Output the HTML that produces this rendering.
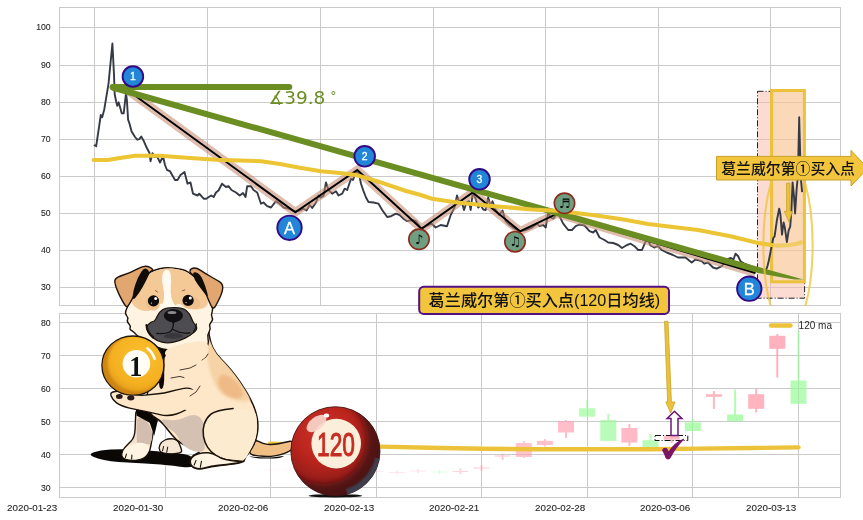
<!DOCTYPE html>
<html lang="zh"><head><meta charset="utf-8"><title>葛兰威尔第①买入点</title>
<style>html,body{margin:0;padding:0;background:#fff}body{width:863px;height:520px;overflow:hidden}svg{display:block}.tk{font-family:"Liberation Sans",sans-serif;font-size:10px;fill:#262626}.cj{font-family:"Liberation Sans","Noto Sans CJK SC",sans-serif;fill:#111;font-weight:500}.mk{font-family:"Liberation Sans",sans-serif;fill:#fff;text-anchor:middle}</style></head><body>
<svg width="863" height="520" viewBox="0 0 863 520">
<rect width="863" height="520" fill="#fff"/>
<g stroke="#cacaca" stroke-width="1" fill="none">
<line x1="59.5" y1="287.5" x2="840.5" y2="287.5"/>
<line x1="59.5" y1="250.5" x2="840.5" y2="250.5"/>
<line x1="59.5" y1="213.5" x2="840.5" y2="213.5"/>
<line x1="59.5" y1="176.5" x2="840.5" y2="176.5"/>
<line x1="59.5" y1="139.5" x2="840.5" y2="139.5"/>
<line x1="59.5" y1="102.5" x2="840.5" y2="102.5"/>
<line x1="59.5" y1="65.5" x2="840.5" y2="65.5"/>
<line x1="59.5" y1="27.5" x2="840.5" y2="27.5"/>
<line x1="94.5" y1="7.5" x2="94.5" y2="305.5"/>
<line x1="207.5" y1="7.5" x2="207.5" y2="305.5"/>
<line x1="320.5" y1="7.5" x2="320.5" y2="305.5"/>
<line x1="433.5" y1="7.5" x2="433.5" y2="305.5"/>
<line x1="545.5" y1="7.5" x2="545.5" y2="305.5"/>
<line x1="658.5" y1="7.5" x2="658.5" y2="305.5"/>
<line x1="770.5" y1="7.5" x2="770.5" y2="305.5"/>
<rect x="59.5" y="7.5" width="781.0" height="298.0"/>
<line x1="59.5" y1="487.5" x2="840.5" y2="487.5"/>
<line x1="59.5" y1="454.5" x2="840.5" y2="454.5"/>
<line x1="59.5" y1="421.5" x2="840.5" y2="421.5"/>
<line x1="59.5" y1="388.5" x2="840.5" y2="388.5"/>
<line x1="59.5" y1="355.5" x2="840.5" y2="355.5"/>
<line x1="59.5" y1="322.5" x2="840.5" y2="322.5"/>
<line x1="165.5" y1="313.5" x2="165.5" y2="497.5"/>
<line x1="270.5" y1="313.5" x2="270.5" y2="497.5"/>
<line x1="376.5" y1="313.5" x2="376.5" y2="497.5"/>
<line x1="481.5" y1="313.5" x2="481.5" y2="497.5"/>
<line x1="587.5" y1="313.5" x2="587.5" y2="497.5"/>
<line x1="692.5" y1="313.5" x2="692.5" y2="497.5"/>
<line x1="798.5" y1="313.5" x2="798.5" y2="497.5"/>
<rect x="59.5" y="313.5" width="781.0" height="184.0"/>
</g>
<g class="tk" text-anchor="end" stroke="#262626" stroke-width="0.1">
<text x="50.7" y="290.1" font-size="8.7px">30</text>
<text x="50.7" y="253.1" font-size="8.7px">40</text>
<text x="50.7" y="216.1" font-size="8.7px">50</text>
<text x="50.7" y="179.1" font-size="8.7px">60</text>
<text x="50.7" y="142.1" font-size="8.7px">70</text>
<text x="50.7" y="105.1" font-size="8.7px">80</text>
<text x="50.7" y="68.1" font-size="8.7px">90</text>
<text x="50.7" y="30.1" font-size="8.7px">100</text>
<text x="50.7" y="490.6" font-size="8.7px">30</text>
<text x="50.7" y="457.6" font-size="8.7px">40</text>
<text x="50.7" y="424.6" font-size="8.7px">50</text>
<text x="50.7" y="391.6" font-size="8.7px">60</text>
<text x="50.7" y="358.6" font-size="8.7px">70</text>
<text x="50.7" y="325.6" font-size="8.7px">80</text>
<text x="57.3" y="510.7" font-size="9.4px" textLength="50.2" lengthAdjust="spacingAndGlyphs">2020-01-23</text>
<text x="163.3" y="510.7" font-size="9.4px" textLength="50.2" lengthAdjust="spacingAndGlyphs">2020-01-30</text>
<text x="268.3" y="510.7" font-size="9.4px" textLength="50.2" lengthAdjust="spacingAndGlyphs">2020-02-06</text>
<text x="374.3" y="510.7" font-size="9.4px" textLength="50.2" lengthAdjust="spacingAndGlyphs">2020-02-13</text>
<text x="479.3" y="510.7" font-size="9.4px" textLength="50.2" lengthAdjust="spacingAndGlyphs">2020-02-21</text>
<text x="585.3" y="510.7" font-size="9.4px" textLength="50.2" lengthAdjust="spacingAndGlyphs">2020-02-28</text>
<text x="690.3" y="510.7" font-size="9.4px" textLength="50.2" lengthAdjust="spacingAndGlyphs">2020-03-06</text>
<text x="796.3" y="510.7" font-size="9.4px" textLength="50.2" lengthAdjust="spacingAndGlyphs">2020-03-13</text>
</g>
<clipPath id="ct"><rect x="59.5" y="7.5" width="781.0" height="298.0"/></clipPath>
<g clip-path="url(#ct)">
<rect x="757.5" y="91.3" width="47.1" height="206.9" fill="#f7b8a6" fill-opacity="0.5" stroke="#222" stroke-width="1" stroke-dasharray="6,2,1,2"/>
<rect x="771.6" y="90.5" width="32.8" height="191.3" fill="#fbd28f" fill-opacity="0.38" stroke="#ecc23a" stroke-width="3"/>
<polyline points="93.9,145.0 96.2,146.2 100.8,115.0 102.2,117.3 104.3,109.2 108.5,83.8 112.4,43.5 114.0,74.6 114.7,94.2 116.1,101.2 117.2,105.8 118.6,102.3 120.0,107.0 121.8,113.4 123.7,113.4 126.0,93.0 126.9,100.0 128.1,119.6 129.7,124.2 131.5,131.2 135.0,137.0 137.3,139.7 139.2,139.2 141.2,136.5 143.5,140.4 146.5,147.3 149.5,153.0 150.5,161.2 152.5,153.2 154.5,157.0 157.0,156.2 160.0,162.5 163.0,156.2 165.0,165.0 167.0,170.0 170.0,171.2 175.0,180.0 177.5,180.0 180.5,175.0 184.5,172.0 187.5,183.7 190.5,182.5 193.0,193.7 197.5,195.5 199.2,193.7 203.7,198.7 206.2,198.7 211.2,195.5 213.7,197.0 216.0,192.5 218.5,190.5 222.0,183.7 226.0,187.0 228.5,186.2 231.5,190.0 236.0,192.5 239.7,195.5 243.0,193.0 245.5,197.0 247.2,186.2 251.0,186.2 253.5,190.0 257.2,192.5 261.0,203.7 263.5,202.5 267.2,206.2 271.0,207.5 276.0,201.2 279.7,203.7 283.5,207.5 288.5,208.7 294.7,211.2 299.7,210.5 303.5,208.7 306.5,210.5 309.7,205.0 312.2,208.0 316.0,202.5 318.5,195.5 320.5,197.5 323.5,196.2 326.0,182.5 328.5,190.0 332.2,193.7 336.0,191.2 338.5,195.5 342.2,193.7 344.7,188.7 347.2,190.0 351.0,178.7 353.0,180.0 356.0,171.2 359.0,173.7 361.0,183.7 363.5,191.2 366.0,197.5 368.5,202.0 373.5,202.5 378.5,203.7 382.2,210.0 387.2,217.0 391.0,216.2 396.0,213.7 399.7,215.0 403.5,218.7 407.2,221.2 412.2,220.0 416.0,221.2 421.5,228.7 426.0,226.2 431.7,223.7 435.7,227.5 440.7,225.0 447.0,226.2 450.7,215.0 454.5,207.5 457.0,195.5 459.0,201.2 462.0,202.5 464.0,210.0 466.5,202.5 469.0,201.2 470.7,210.0 472.7,192.5 475.7,198.7 478.2,207.5 480.7,205.0 483.2,209.5 485.7,210.0 488.2,197.5 490.7,206.2 492.5,201.2 495.7,210.0 499.0,215.0 502.5,210.5 505.7,221.2 509.5,225.0 514.5,228.7 520.0,231.2 525.7,230.0 532.0,227.5 537.0,223.7 539.5,226.2 543.2,225.0 545.7,227.5 548.2,212.5 550.7,217.5 553.2,218.7 557.0,213.7 559.5,216.2 563.2,223.7 568.2,230.0 572.0,230.0 575.7,226.2 579.5,224.5 584.5,225.5 589.5,231.2 593.2,232.5 595.7,230.0 599.5,237.5 604.5,240.0 608.2,242.5 613.2,243.0 618.2,245.0 622.0,248.0 627.0,245.0 630.7,243.7 634.5,246.2 638.2,250.0 642.0,250.0 645.7,241.2 648.0,240.0 650.5,245.5 654.2,247.5 658.0,246.2 661.7,250.0 666.7,252.5 673.0,255.0 678.0,257.5 685.5,257.5 691.7,262.5 695.5,259.5 701.7,261.2 704.2,263.7 708.0,262.5 713.0,267.5 716.7,268.7 721.7,266.2 728.0,259.0 731.0,258.0 733.5,259.5 735.5,253.7 738.0,256.0 740.5,261.2 745.0,264.0 750.0,266.0 755.0,268.0 760.0,270.0 765.6,271.0 767.5,266.0 768.9,260.1 770.5,252.0 773.3,238.0 774.6,236.4 776.8,220.8 779.2,208.6 780.4,214.3 782.0,234.7 783.6,222.5 784.8,227.4 786.9,242.1 788.6,230.6 790.2,226.6 791.3,212.6 792.6,182.4 794.0,196.3 795.1,213.5 796.7,188.1 797.9,176.0 799.2,117.3 800.8,178.0 802.1,192.2" fill="none" stroke="#353a44" stroke-width="1.9" stroke-linejoin="round"/>
<polyline points="126.6,89.4 295.3,212.3 357.3,170.0 421.5,228.8 472.7,192.5 520.0,231.3 557.0,213.7 755.5,273.0" fill="none" stroke="#c58a6e" stroke-opacity="0.56" stroke-width="8.6" stroke-linejoin="miter"/>
<polyline points="126.6,89.4 295.3,212.3 357.3,170.0 421.5,228.8 472.7,192.5 520.0,231.3 557.0,213.7 755.5,273.0" fill="none" stroke="#000" stroke-width="1.9" stroke-linejoin="miter"/>
<g stroke="#6b8e23" stroke-width="6" stroke-linecap="round" fill="none">
<line x1="112.8" y1="86.9" x2="289.3" y2="86.9"/>
</g>
<path d="M113.3 84.6L803.5 279.6L795.0 279.4L785.0 278.1L770.0 275.2L758.0 273.0L111.7 90.4Z" fill="#6b8e23"/>
<circle cx="112.6" cy="87.3" r="3" fill="#6b8e23"/>
<polyline points="93.7,160.0 107.5,160.0 120.0,158.0 135.0,155.8 160.0,155.8 190.0,158.0 216.0,159.7 261.0,161.2 280.0,164.0 298.5,167.5 321.0,171.2 340.0,173.0 356.0,175.0 378.5,181.6 406.0,191.0 420.0,194.8 432.0,198.8 457.0,202.5 494.5,206.2 532.0,209.5 557.0,210.8 594.5,215.2 622.0,219.2 648.0,224.0 698.0,230.0 730.5,236.2 758.0,243.0 771.5,245.0" fill="none" stroke="#ecc534" stroke-width="4.1" stroke-linejoin="round" stroke-linecap="round"/>
<polyline points="771.5,245.0 778.0,245.6 790.0,245.0 797.0,243.8 802.5,241.8" fill="none" stroke="#ecc534" stroke-opacity="0.62" stroke-width="4.1" stroke-linejoin="round"/>
<ellipse cx="788" cy="245" rx="24.6" ry="86" fill="none" stroke="#f0c63e" stroke-width="2.1" stroke-opacity="0.8"/>
</g>
<text font-family="DejaVu Sans,sans-serif" font-size="18.2px" fill="#6b8e23"><tspan x="268.6" y="104.2">∡</tspan><tspan x="284.2" y="104.2" textLength="41.2" lengthAdjust="spacingAndGlyphs">39.8</tspan><tspan x="330.2" y="100.4" font-size="12.5px">°</tspan></text>
<circle cx="132.9" cy="76.5" r="10.3" fill="#2186d8" stroke="#330a85" stroke-width="1.9"/>
<text class="mk" x="132.9" y="80.2" font-size="10.4px" fill="#fff" stroke="#fff" stroke-width="0.3">1</text>
<circle cx="364.7" cy="156.3" r="10.3" fill="#2186d8" stroke="#330a85" stroke-width="1.9"/>
<text class="mk" x="364.7" y="160.0" font-size="10.4px" fill="#fff" stroke="#fff" stroke-width="0.3">2</text>
<circle cx="479.5" cy="179.3" r="10.3" fill="#2186d8" stroke="#330a85" stroke-width="1.9"/>
<text class="mk" x="479.5" y="183.0" font-size="10.4px" fill="#fff" stroke="#fff" stroke-width="0.3">3</text>
<circle cx="289.5" cy="227.8" r="12.2" fill="#2186d8" stroke="#330a85" stroke-width="1.9"/>
<text class="mk" x="289.5" y="233.7" font-size="16.5px" fill="#fff" stroke="#fff" stroke-width="0.3">A</text>
<circle cx="749.3" cy="288.7" r="12.2" fill="#2186d8" stroke="#330a85" stroke-width="1.9"/>
<text class="mk" x="749.3" y="294.6" font-size="16.5px" fill="#fff" stroke="#fff" stroke-width="0.3">B</text>
<circle cx="419.0" cy="239.3" r="10.2" fill="#6f9e80" stroke="#8c2a1c" stroke-width="1.6"/>
<text x="419.0" y="243.9" font-family="DejaVu Sans,sans-serif" font-size="13px" text-anchor="middle" fill="#000">♪</text>
<circle cx="515.0" cy="241.7" r="10.2" fill="#6f9e80" stroke="#8c2a1c" stroke-width="1.6"/>
<text x="515.0" y="246.3" font-family="DejaVu Sans,sans-serif" font-size="13px" text-anchor="middle" fill="#000">♫</text>
<circle cx="564.5" cy="203.3" r="10.2" fill="#6f9e80" stroke="#8c2a1c" stroke-width="1.6"/>
<text x="564.5" y="207.9" font-family="DejaVu Sans,sans-serif" font-size="13px" text-anchor="middle" fill="#000">♬</text>
<path d="M786.6 183.2H790V211.3H792.4L789 222L784.4 211.3H786.6Z" fill="#ecc23a" stroke="#c9a227" stroke-width="0.8" stroke-linejoin="round"/>
<path d="M716.5 156.4H851V150.4L868 168.2L851 186V180H716.5Z" fill="#f2c53d" stroke="#c9a12a" stroke-width="1"/>
<text class="cj" x="721.2" y="173.8" font-size="15px" textLength="133.8" lengthAdjust="spacingAndGlyphs">葛兰威尔第①买入点</text>
<g>
<g fill="#ffa0b0" opacity="0.08"><rect x="269.2" y="468.0" width="2" height="4.0"/><rect x="262.2" y="469.5" width="16" height="1.0"/></g>
<g fill="#ffa0b0" opacity="0.10"><rect x="290.3" y="468.0" width="2" height="4.0"/><rect x="283.3" y="469.5" width="16" height="1.0"/></g>
<g fill="#ffa0b0" opacity="0.12"><rect x="311.5" y="468.0" width="2" height="5.0"/><rect x="304.5" y="470.0" width="16" height="1.0"/></g>
<g fill="#ffa0b0" opacity="0.14"><rect x="332.6" y="469.0" width="2" height="5.0"/><rect x="325.6" y="471.0" width="16" height="1.0"/></g>
<g fill="#98fb98" opacity="0.16"><rect x="353.7" y="469.0" width="2" height="5.0"/><rect x="346.7" y="471.0" width="16" height="1.0"/></g>
<g fill="#ffa0b0" opacity="0.18"><rect x="374.9" y="470.0" width="2" height="4.0"/><rect x="367.9" y="471.0" width="16" height="1.0"/></g>
<g fill="#ffa0b0" opacity="0.22"><rect x="396.0" y="470.5" width="2" height="4.0"/><rect x="389.0" y="472.0" width="16" height="1.0"/></g>
<g fill="#ffa0b0" opacity="0.26"><rect x="417.1" y="469.0" width="2" height="4.0"/><rect x="410.1" y="470.5" width="16" height="1.0"/></g>
<g fill="#98fb98" opacity="0.30"><rect x="438.2" y="470.0" width="2" height="4.0"/><rect x="431.2" y="471.5" width="16" height="1.0"/></g>
<g fill="#ffa0b0" opacity="0.42"><rect x="459.4" y="468.0" width="2" height="6.0"/><rect x="452.4" y="471.0" width="16" height="1.0"/></g>
<g fill="#ffa0b0" opacity="0.55"><rect x="480.5" y="465.0" width="2" height="6.0"/><rect x="473.5" y="467.5" width="16" height="1.0"/></g>
<g fill="#ffa0b0" opacity="0.60"><rect x="501.6" y="453.5" width="2" height="6.5"/><rect x="494.6" y="455.5" width="16" height="1.0"/></g>
<g fill="#ffa0b0" opacity="0.61"><rect x="522.8" y="441.0" width="2" height="17.0"/><rect x="515.8" y="443.0" width="16" height="14.0"/></g>
<g fill="#ffa0b0" opacity="0.65"><rect x="543.9" y="439.0" width="2" height="7.5"/><rect x="536.9" y="440.8" width="16" height="4.2"/></g>
<g fill="#ffa0b0" opacity="0.68"><rect x="565.0" y="420.0" width="2" height="18.0"/><rect x="558.0" y="421.0" width="16" height="11.5"/></g>
<g fill="#98fb98" opacity="0.65"><rect x="586.1" y="400.4" width="2" height="16.3"/><rect x="579.1" y="408.2" width="16" height="8.5"/></g>
<g fill="#98fb98" opacity="0.67"><rect x="607.3" y="413.7" width="2" height="27.2"/><rect x="600.3" y="420.1" width="16" height="20.8"/></g>
<g fill="#ffa0b0" opacity="0.72"><rect x="628.4" y="424.0" width="2" height="22.0"/><rect x="621.4" y="428.0" width="16" height="14.6"/></g>
<g fill="#98fb98" opacity="0.68"><rect x="649.5" y="434.0" width="2" height="14.0"/><rect x="642.5" y="440.2" width="16" height="7.8"/></g>
<g fill="#ffa0b0" opacity="0.72"><rect x="670.7" y="435.0" width="2" height="8.0"/><rect x="663.7" y="435.7" width="16" height="4.0"/></g>
<g fill="#98fb98" opacity="0.72"><rect x="691.8" y="419.0" width="2" height="12.0"/><rect x="684.8" y="422.4" width="16" height="8.6"/></g>
<g fill="#ffa0b0" opacity="0.76"><rect x="712.9" y="391.0" width="2" height="18.0"/><rect x="705.9" y="394.2" width="16" height="2.6"/></g>
<g fill="#98fb98" opacity="0.74"><rect x="734.1" y="389.5" width="2" height="31.7"/><rect x="727.1" y="414.5" width="16" height="6.7"/></g>
<g fill="#ffa0b0" opacity="0.79"><rect x="755.2" y="388.8" width="2" height="23.7"/><rect x="748.2" y="394.2" width="16" height="14.6"/></g>
<g fill="#ffa0b0" opacity="0.81"><rect x="776.3" y="334.0" width="2" height="43.5"/><rect x="769.3" y="335.8" width="16" height="13.0"/></g>
<g fill="#98fb98" opacity="0.70"><rect x="797.5" y="331.0" width="2" height="72.8"/><rect x="790.5" y="380.5" width="16" height="23.3"/></g>
</g>
<polyline points="270.0,443.6 300.0,444.6 340.0,445.8 380.0,446.6 430.0,447.8 482.0,448.8 540.0,449.2 596.0,449.3 650.0,449.2 700.0,448.6 750.0,448.0 798.5,447.4" fill="none" stroke="#ecc23a" stroke-width="4.4" stroke-linecap="round" stroke-linejoin="round"/>
<line x1="771" y1="325.5" x2="790.5" y2="325.5" stroke="#ecc23a" stroke-width="4.4" stroke-linecap="round"/>
<text class="tk" x="798.6" y="329.2">120 ma</text>
<rect x="655" y="435.5" width="32.8" height="5" fill="none" stroke="#111" stroke-width="1" stroke-dasharray="6,2,1,2"/>
<path d="M664.5 321.3H668L671.4 402H675L670.7 413L665.8 402H667.6Z" fill="#ecc23a" stroke="#c9a227" stroke-width="0.8" stroke-linejoin="round"/>
<path d="M674.5 411.2L682 418.6H678V435.6H671V418.6H667Z" fill="#fff" stroke="#6a1b7a" stroke-width="1.5" stroke-linejoin="miter"/>
<path d="M662.6 450.2C663.6 447.8 666.6 447.6 667.6 450.4L668.6 452.6C672 446.6 677.5 441.5 683.6 439.2C678 445 673 452 670.2 457.6C669.2 459.4 666.8 459.4 666 457.6C665.2 455 664 452.4 662.6 450.2Z" fill="#7a1566" stroke="#7a1566" stroke-width="1.1" stroke-linejoin="round"/>
<filter id="bl" x="-20%" y="-20%" width="140%" height="140%"><feGaussianBlur stdDeviation="1.6"/></filter>
<g stroke-linejoin="round" stroke-linecap="round">
<path d="M97.9 458.4Q86.4 455.1 93.2 452.6Q99.9 450.1 110.7 449.5Q121.5 448.9 131.9 449.4Q142.4 449.9 151.1 450.7Q159.7 451.5 167.6 452.4Q175.4 453.2 183.2 454.1Q191.0 455.0 193.6 459.7Q196.2 464.5 192.8 466.3Q189.3 468.0 182.3 467.0Q175.4 465.9 160.6 464.5Q145.8 463.1 127.6 462.4Q109.3 461.7 97.9 458.4Z" fill="#0a0705"/>
<path d="M253.1 457.5Q246.2 456.2 253.1 456.7Q260.0 457.2 266.2 457.5Q272.3 457.8 279.2 456.6Q286.2 455.5 282.3 456.9Q278.5 458.4 269.2 458.5Q260.0 458.7 253.1 457.5Z" fill="#0a0705"/>
<path d="M250.8 446.2Q253.8 438.8 258.5 441.4Q263.1 443.9 267.7 444.4Q272.3 444.8 278.5 443.7Q284.6 442.5 288.8 441.5Q293.1 440.5 293.1 444.7Q293.1 448.8 290.4 450.5Q287.7 452.2 283.8 453.7Q280.0 455.2 274.6 455.9Q269.2 456.7 263.1 456.3Q256.9 455.9 252.3 454.7Q247.7 453.5 250.8 446.2Z" fill="#f0bf85" stroke="#1c120a" stroke-width="1.4"/>
<path d="M159.9 450.8Q158.4 447.8 159.9 444.7Q161.5 441.6 165.0 440.0Q168.4 438.5 172.8 438.8Q177.1 439.2 179.0 443.1Q180.9 447.1 181.6 450.4Q182.3 453.8 171.9 453.8Q161.5 453.8 159.9 450.8Z" fill="#f6e6d4" stroke="#1c120a" stroke-width="1.3"/>
<path d="M166.7 452.4L167.7 447.1" fill="none" stroke="#1c120a" stroke-width="1.0"/>
<path d="M162.5 451.0L163.6 446.5" fill="none" stroke="#1c120a" stroke-width="1.0"/>
<path d="M146.5 411.5Q135.9 407.2 135.7 414.1Q135.4 421.1 135.1 429.3Q134.7 437.6 131.1 441.1Q127.6 444.5 124.7 447.8Q121.9 451.0 121.9 454.4Q121.9 457.9 125.6 459.2Q129.3 460.5 135.8 460.1Q142.4 459.7 146.0 456.2Q149.7 452.7 150.9 445.6Q152.1 438.5 153.3 432.4Q154.5 426.3 155.8 421.1Q157.1 415.9 146.5 411.5Z" fill="#f3e0cb" stroke="#1c120a" stroke-width="1.4"/>
<path d="M136.8 422.8Q137.1 415.9 142.4 418.5Q147.6 421.1 150.4 427.2Q153.1 433.2 151.9 439.3Q150.7 445.4 146.5 444.1Q142.4 442.8 139.8 445.0Q137.1 447.1 136.8 438.5Q136.5 429.8 136.8 422.8Z" fill="#d3bdae"/>
<path d="M134.5 443.5Q128.5 445.1 125.5 448.0Q122.5 451.0 122.5 454.3Q122.5 457.6 125.9 458.7Q129.3 459.8 135.7 459.4Q142.0 459.0 145.3 455.7Q148.6 452.4 149.1 448.9Q149.7 445.4 145.1 443.7Q140.6 441.9 134.5 443.5Z" fill="#fff4e2"/>
<path d="M131.6 459.0L131.9 455.0" fill="none" stroke="#1c120a" stroke-width="1.1"/>
<path d="M125.3 457.9L126.4 454.1" fill="none" stroke="#1c120a" stroke-width="1.1"/>
<path d="M135.8 407.5L163.2 417.2L158.0 419.7L154.2 435.8L149.7 422.8L136.5 415.5Z" fill="#0a0705"/>
<path d="M183.5 327.0Q207.0 318.0 208.5 330.0Q210.0 342.0 213.0 348.0Q216.0 354.0 221.0 359.0Q226.0 364.0 231.0 370.0Q236.0 376.0 240.0 382.0Q244.0 388.0 247.0 393.0Q250.0 398.0 253.0 404.5Q256.0 411.0 257.2 418.0Q258.5 425.0 257.5 432.5Q256.5 440.0 253.2 446.0Q250.0 452.0 247.5 454.5Q245.0 457.0 244.5 459.8Q244.0 462.5 235.0 463.8Q226.0 465.0 218.5 465.8Q211.0 466.5 205.5 468.0Q200.0 469.5 196.0 468.5Q192.0 467.5 190.4 464.2Q188.8 461.0 190.9 458.0Q193.0 455.0 197.0 453.5Q201.0 452.0 198.5 450.0Q196.0 448.0 191.0 447.0Q186.0 446.0 181.0 443.0Q176.0 440.0 172.0 435.0Q168.0 430.0 164.0 425.0Q160.0 420.0 155.0 417.5Q150.0 415.0 148.0 407.5Q146.0 400.0 148.0 390.0Q150.0 380.0 153.0 365.0Q156.0 350.0 158.0 343.0Q160.0 336.0 183.5 327.0Z" fill="#fde7c8" stroke="#1c120a" stroke-width="1.5"/>
<path d="M163.2 423.0Q159.7 417.9 167.6 419.7Q175.4 421.4 185.8 416.9Q196.2 412.4 200.8 418.5Q205.3 424.5 204.4 431.5Q203.5 438.5 204.6 444.7Q205.6 451.0 200.9 451.8Q196.2 452.7 189.3 449.2Q182.3 445.8 178.9 438.8Q175.4 431.9 171.0 429.9Q166.7 428.0 163.2 423.0Z" fill="#d5c1b2"/>
<clipPath id="cb"><path d="M183.5 327.0Q207.0 318.0 208.5 330.0Q210.0 342.0 213.0 348.0Q216.0 354.0 221.0 359.0Q226.0 364.0 231.0 370.0Q236.0 376.0 240.0 382.0Q244.0 388.0 247.0 393.0Q250.0 398.0 253.0 404.5Q256.0 411.0 257.2 418.0Q258.5 425.0 257.5 432.5Q256.5 440.0 253.2 446.0Q250.0 452.0 247.5 454.5Q245.0 457.0 244.5 459.8Q244.0 462.5 235.0 463.8Q226.0 465.0 218.5 465.8Q211.0 466.5 205.5 468.0Q200.0 469.5 196.0 468.5Q192.0 467.5 190.4 464.2Q188.8 461.0 190.9 458.0Q193.0 455.0 197.0 453.5Q201.0 452.0 198.5 450.0Q196.0 448.0 191.0 447.0Q186.0 446.0 181.0 443.0Q176.0 440.0 172.0 435.0Q168.0 430.0 164.0 425.0Q160.0 420.0 155.0 417.5Q150.0 415.0 148.0 407.5Q146.0 400.0 148.0 390.0Q150.0 380.0 153.0 365.0Q156.0 350.0 158.0 343.0Q160.0 336.0 183.5 327.0Z"/></clipPath>
<g clip-path="url(#cb)" filter="url(#bl)">
<path d="M208.0 345.0Q210.0 338.0 214.0 345.0Q218.0 352.0 223.0 358.0Q228.0 364.0 233.0 370.0Q238.0 376.0 242.0 382.0Q246.0 388.0 249.0 394.0Q252.0 400.0 248.0 401.2Q244.0 402.4 239.0 401.2Q234.0 400.0 228.0 397.5Q222.0 395.0 218.2 389.5Q214.4 384.0 211.8 377.0Q209.2 370.0 207.6 361.0Q206.0 352.0 208.0 345.0Z" fill="#f6d3a6"/>
<path d="M218.5 379.5Q220.0 373.0 226.0 375.0Q232.0 377.0 237.2 382.5Q242.4 388.0 243.2 392.5Q244.0 397.0 240.0 398.0Q236.0 399.0 231.0 397.5Q226.0 396.0 221.5 391.0Q217.0 386.0 218.5 379.5Z" fill="#efba86"/>
</g>
<path d="M240.4 408.8Q233.1 408.5 224.4 409.4Q215.7 410.2 210.9 414.2Q206.2 418.1 204.2 424.2Q202.3 430.4 203.5 436.5Q204.6 442.7 207.7 447.3Q210.8 451.9 215.5 455.2Q220.3 458.4 225.5 459.5Q230.8 460.7 237.3 461.1Q243.8 461.5 246.7 456.7Q249.5 451.9 252.6 445.8Q255.7 439.6 256.5 432.7Q257.2 425.8 256.7 418.8Q256.2 411.9 251.9 410.5Q247.7 409.2 240.4 408.8Z" fill="#fdebd0"/>
<path d="M233.1 408.5Q215.7 410.2 210.9 414.2Q206.2 418.1 204.2 424.2Q202.3 430.4 203.5 436.5Q204.6 442.7 207.7 447.3Q210.8 451.9 215.5 455.2Q220.3 458.4 225.5 459.5Q230.8 460.7 243.8 461.5" fill="none" stroke="#1c120a" stroke-width="1.5"/>
<path d="M190.8 464.3Q189.2 461.2 191.5 458.1Q193.8 455.0 198.5 453.8Q203.1 452.5 208.1 452.8Q213.1 453.2 216.7 455.8Q220.3 458.4 225.5 459.6Q230.8 460.8 237.3 461.3Q243.8 461.8 235.0 463.2Q226.2 464.5 218.5 465.3Q210.8 466.1 205.4 467.6Q200.0 469.2 196.2 468.3Q192.3 467.5 190.8 464.3Z" fill="#fff4e2" stroke="#1c120a" stroke-width="1.4"/>
<path d="M200.3 467.3L201.5 461.2" fill="none" stroke="#1c120a" stroke-width="1.1"/>
<path d="M194.2 465.0L196.0 460.4" fill="none" stroke="#1c120a" stroke-width="1.1"/>
<path d="M115.3 391.5Q109.7 392.0 111.0 395.8Q112.3 399.6 116.6 402.9Q121.0 406.2 129.6 408.1Q138.3 410.0 145.2 411.4Q152.1 412.7 159.9 414.6Q167.7 416.6 176.4 414.0Q185.0 411.4 191.9 405.3Q198.9 399.2 195.4 393.2Q191.9 387.1 184.1 388.4Q176.4 389.7 170.3 391.5Q164.2 393.2 158.2 393.8Q152.1 394.4 145.2 395.1Q138.3 395.8 129.6 393.4Q121.0 390.9 115.3 391.5Z" fill="#fde7c8" stroke="#1c120a" stroke-width="1.4"/>
<ellipse cx="119.3" cy="396.4" rx="3.4" ry="2.5" fill="#2a1a1e"/>
<ellipse cx="130.8" cy="397.8" rx="3.6" ry="2.6" fill="#2a1a1e"/>
<path d="M176.4 396.6Q176.4 390.6 184.1 389.3Q191.9 388.0 198.9 391.9Q205.8 395.8 202.3 401.8Q198.9 407.9 191.9 409.6Q185.0 411.4 180.7 407.0Q176.4 402.7 176.4 396.6Z" fill="#fde7c8"/>
<path d="M186.0 358.4L196.0 352.0L201.0 350.0" fill="none" stroke="#1c120a" stroke-width="0.8"/>
<path d="M180.0 370.0L190.0 368.0L196.0 365.0" fill="none" stroke="#1c120a" stroke-width="0.8"/>
<path d="M171.0 378.0L180.0 376.4L184.0 377.6" fill="none" stroke="#1c120a" stroke-width="0.8"/>
<path d="M202.0 360.0L206.0 357.0L208.0 354.0" fill="none" stroke="#1c120a" stroke-width="0.8"/>
<path d="M200.0 386.0L196.0 392.0L190.0 396.0" fill="none" stroke="#1c120a" stroke-width="0.8"/>
<path d="M153.3 343.0Q150.7 336.9 157.5 338.8Q164.2 340.7 168.4 344.7Q172.5 348.7 169.3 351.5Q166.0 354.2 164.9 357.3Q163.9 360.3 164.2 374.1Q164.6 388.0 161.5 388.9Q158.4 389.7 159.2 377.2Q160.1 364.6 158.0 356.8Q155.9 349.0 153.3 343.0Z" fill="#0a0705"/>
<path d="M149.1 272.7Q153.5 270.1 159.5 268.7Q165.6 267.3 171.6 267.9Q177.7 268.4 182.9 269.8Q188.1 271.2 195.0 277.6Q201.9 284.0 206.3 292.6Q210.6 301.3 211.9 305.2Q213.2 309.1 212.1 312.1Q210.9 315.1 212.1 317.4Q213.4 319.6 211.1 322.2Q208.9 324.8 209.9 326.9Q210.9 329.0 209.0 332.1Q207.1 335.2 208.0 338.3Q208.9 341.4 207.6 345.6Q206.3 349.7 192.0 350.6Q177.7 351.5 167.3 349.7Q156.9 348.0 150.9 343.7Q144.8 339.4 141.4 338.1Q137.9 336.8 136.2 334.6Q134.4 332.4 131.8 330.7Q129.2 329.0 130.1 327.7Q131.0 326.4 128.8 323.8Q126.6 321.2 127.6 319.5Q128.5 317.7 126.6 315.6Q124.7 313.4 126.1 310.1Q127.5 306.8 131.0 298.0Q134.4 289.2 139.6 282.2Q144.8 275.3 149.1 272.7Z" fill="#fff4e2" stroke="#1c120a" stroke-width="1.4"/>
<path d="M169.9 348.0Q177.7 344.6 192.4 342.0Q207.1 339.4 208.0 345.4Q208.9 351.5 205.4 356.7Q201.9 361.9 186.4 361.9Q170.8 361.9 166.5 356.7Q162.1 351.5 169.9 348.0Z" fill="#fde7c8"/>
<path d="M149.7 273.4Q154.3 270.8 160.0 269.4Q165.6 268.0 171.6 268.6Q177.7 269.1 182.7 270.5Q187.7 271.8 194.0 277.9Q200.2 284.0 204.5 292.6Q208.9 301.3 207.6 304.3Q206.3 307.3 202.4 308.6Q198.5 309.9 192.4 309.1Q186.4 308.2 182.0 305.2Q177.7 302.1 175.5 306.0Q173.4 309.9 170.3 309.9Q167.3 309.9 164.7 305.6Q162.1 301.3 158.2 305.6Q154.3 309.9 149.1 310.8Q143.9 311.7 139.2 309.5Q134.4 307.3 132.7 304.3Q131.0 301.3 133.6 295.2Q136.2 289.2 140.7 282.6Q145.2 276.0 149.7 273.4Z" fill="#f4c996"/>
<path d="M146.5 299.1Q144.8 301.3 146.5 305.6Q148.3 309.9 152.6 310.4Q156.9 310.8 158.7 307.8Q160.4 304.7 158.7 301.3Q156.9 297.8 152.6 297.4Q148.3 296.9 146.5 299.1Z" fill="#edc08e"/>
<path d="M184.6 297.4Q181.2 299.5 182.0 303.4Q182.9 307.3 188.1 308.6Q193.3 309.9 197.6 308.2Q201.9 306.5 200.2 302.1Q198.5 297.8 193.3 296.5Q188.1 295.2 184.6 297.4Z" fill="#edc08e"/>
<path d="M162.5 275.1Q163.5 269.8 166.8 269.8Q170.1 269.8 170.8 275.1Q171.5 280.5 170.8 286.6Q170.1 292.6 171.5 298.0Q172.9 303.4 176.1 306.6Q179.4 309.9 173.4 310.8Q167.3 311.7 163.0 310.8Q158.7 309.9 161.1 306.6Q163.5 303.4 164.0 298.0Q164.5 292.6 163.0 286.6Q161.4 280.5 162.5 275.1Z" fill="#fffaf0"/>
<path d="M149.5 267.2Q145.2 264.6 138.1 268.6Q131.0 272.5 123.3 275.0Q115.7 277.4 115.0 280.0Q114.3 282.6 116.6 288.5Q118.8 294.4 122.0 300.2Q125.1 306.1 126.5 306.6Q127.8 307.2 131.7 299.9Q135.5 292.6 138.9 286.6Q142.4 280.5 146.5 275.8Q150.7 271.2 152.3 270.5Q153.8 269.8 149.5 267.2Z" fill="#e2a770" stroke="#1c120a" stroke-width="1.4"/>
<path d="M141.2 272.0Q144.5 267.0 147.4 269.4Q150.4 271.8 148.1 276.6Q145.9 281.4 142.4 287.4Q138.9 293.5 135.6 297.4Q132.3 301.3 132.7 296.1Q133.0 290.9 135.5 284.0Q137.9 277.0 141.2 272.0Z" fill="#120c08"/>
<path d="M193.1 275.0Q187.7 271.2 191.4 268.9Q195.0 266.7 200.2 270.1Q205.4 273.6 210.6 276.5Q215.8 279.5 219.4 281.7Q223.1 284.0 222.7 288.3Q222.4 292.6 219.2 299.0Q216.1 305.4 214.6 307.3Q213.0 309.2 210.9 305.3Q208.9 301.3 206.6 295.2Q204.4 289.2 201.4 284.0Q198.5 278.8 193.1 275.0Z" fill="#e2a770" stroke="#1c120a" stroke-width="1.4"/>
<path d="M193.3 275.6Q192.4 271.5 196.1 272.4Q199.9 273.2 202.6 279.5Q205.4 285.7 207.1 292.2Q208.9 298.7 205.4 294.4Q201.9 290.0 198.0 284.8Q194.1 279.6 193.3 275.6Z" fill="#120c08"/>
<path d="M147.6 330.9Q145.9 326.9 148.4 324.3Q151.0 321.7 152.9 321.5Q154.9 321.4 156.9 316.7Q159.0 312.0 162.5 309.8Q165.9 307.5 174.4 307.5Q182.9 307.5 186.4 310.6Q189.8 313.7 191.2 317.5Q192.6 321.4 194.1 323.3Q195.7 325.2 196.6 327.2Q197.4 329.3 194.0 332.4Q190.5 335.5 185.1 338.1Q179.8 340.7 173.7 342.1Q167.7 343.5 161.9 342.1Q156.2 340.7 152.8 337.8Q149.3 334.9 147.6 330.9Z" fill="#4c4c51" stroke="#1c120a" stroke-width="1.2"/>
<path d="M173.4 322.4Q173.5 329.8 169.6 332.0Q165.6 334.2 156.9 333.5" fill="none" stroke="#141014" stroke-width="1.3"/>
<path d="M173.5 329.8Q181.2 334.2 189.8 332.8" fill="none" stroke="#141014" stroke-width="1.3"/>
<path d="M167.3 338.1Q160.4 336.8 166.9 334.2Q173.4 331.6 179.9 333.9Q186.4 336.2 180.3 337.8Q174.2 339.4 167.3 338.1Z" fill="#38383c"/>
<path d="M146.5 325.2Q146.9 332.1 153.1 337.3" fill="none" stroke="#1c120a" stroke-width="2.2"/>
<path d="M196.4 323.8Q196.4 328.1 193.6 331.6" fill="none" stroke="#1c120a" stroke-width="1.3"/>
<ellipse cx="173.4" cy="315.6" rx="9.6" ry="6.6" fill="#131013"/>
<path d="M167.3 318.6L179.4 318.6L173.5 323.8Z" fill="#131013"/>
<ellipse cx="172" cy="312.6" rx="4.4" ry="1.5" fill="#8a8a90"/>
<circle cx="153.5" cy="300.9" r="5.6" fill="#0e0a0a"/>
<circle cx="155.7" cy="298.5" r="1.5" fill="#fff"/>
<circle cx="151.5" cy="303.1" r="0.7" fill="#ddd"/>
<circle cx="188.1" cy="300.4" r="5.6" fill="#0e0a0a"/>
<circle cx="190.3" cy="298.0" r="1.5" fill="#fff"/>
<circle cx="186.1" cy="302.6" r="0.7" fill="#ddd"/>
<path d="M155.4 290.5L157.6 292.1" fill="none" stroke="#7a4a2a" stroke-width="0.8"/>
<path d="M182.2 290.9L184.8 289.9" fill="none" stroke="#7a4a2a" stroke-width="0.8"/>
</g>
<defs>
<radialGradient id="gy" cx="0.62" cy="0.35" r="0.75"><stop offset="0" stop-color="#fbc02d"/><stop offset="0.62" stop-color="#f4b021"/><stop offset="0.86" stop-color="#e59a18"/><stop offset="1" stop-color="#c47a12"/></radialGradient>
<radialGradient id="gr" cx="0.38" cy="0.3" r="0.85"><stop offset="0" stop-color="#d2342a"/><stop offset="0.4" stop-color="#b8241c"/><stop offset="0.7" stop-color="#8c1b19"/><stop offset="1" stop-color="#4e1416"/></radialGradient>
<filter id="bl2" x="-20%" y="-20%" width="140%" height="140%"><feGaussianBlur stdDeviation="3"/></filter>
<filter id="bl3" x="-20%" y="-20%" width="140%" height="140%"><feGaussianBlur stdDeviation="1.2"/></filter>
</defs>
<ellipse cx="133" cy="365.5" rx="31" ry="29.6" fill="url(#gy)" stroke="#1c120a" stroke-width="1.5"/>
<clipPath id="cyb"><ellipse cx="133" cy="365.5" rx="30.6" ry="29.2"/></clipPath>
<g clip-path="url(#cyb)"><path d="M95 365.5a38 38 0 1 0 76 0a38 38 0 1 0 -76 0ZM107.5 363a29.5 28.5 0 1 0 59 0a29.5 28.5 0 1 0 -59 0Z" fill-rule="evenodd" fill="#c47c10" fill-opacity="0.75" filter="url(#bl3)"/></g>
<circle cx="136.4" cy="363.8" r="13.8" fill="#fffdf6"/>
<text transform="translate(135.8 375.9) scale(0.86 1)" font-family="Liberation Serif,serif" font-weight="bold" font-size="30.5px" text-anchor="middle" fill="#111">1</text>
<path d="M147.6 348.4Q152.6 352.4 154.6 358.8" fill="none" stroke="#fff" stroke-width="2.6" stroke-linecap="round"/>
<ellipse cx="335.4" cy="495.8" rx="27" ry="1.7" fill="#111"/>
<circle cx="335.4" cy="451.3" r="44.6" fill="url(#gr)" stroke="#3a1012" stroke-width="0.8"/>
<clipPath id="crb"><circle cx="335.4" cy="451.3" r="44.6"/></clipPath>
<g clip-path="url(#crb)">
<path d="M283.4 451.3a52.0 52.0 0 1 0 104.0 0a52.0 52.0 0 1 0 -104.0 0ZM279.0 440.0a44.0 44.0 0 1 0 88.0 0a44.0 44.0 0 1 0 -88.0 0Z" fill-rule="evenodd" fill="#3c0f14" fill-opacity="0.72" filter="url(#bl2)"/>
<clipPath id="cq"><path d="M335 451L400 462V510H352Z"/></clipPath>
<g clip-path="url(#cq)"><path d="M285.4 451.3a50.0 50.0 0 1 0 100.0 0a50.0 50.0 0 1 0 -100.0 0ZM285.2 445.6a46.0 46.0 0 1 0 92.0 0a46.0 46.0 0 1 0 -92.0 0Z" fill-rule="evenodd" fill="#3c4a5c" fill-opacity="0.8" filter="url(#bl3)"/></g>
</g>
<circle cx="336.2" cy="443.6" r="24.8" fill="#fbeeda"/>
<ellipse cx="316.5" cy="423.5" rx="11.5" ry="6.4" transform="rotate(-38 316.5 423.5)" fill="#f8d6cc" fill-opacity="0.92"/>
<ellipse cx="326.4" cy="415.6" rx="2.8" ry="2" fill="#fff"/>
<text x="336" y="455.6" font-family="Liberation Sans,sans-serif" font-size="34px" text-anchor="middle" fill="#c62d22" stroke="#c62d22" stroke-width="1" textLength="38" lengthAdjust="spacingAndGlyphs">120</text>
<rect x="419.2" y="286.8" width="249.8" height="27.1" rx="4.5" fill="#f2c53d" stroke="#521080" stroke-width="2"/>
<text class="cj" x="428.6" y="306" font-size="16.2px" textLength="231.6" lengthAdjust="spacingAndGlyphs">葛兰威尔第①买入点(120日均线)</text>
</svg></body></html>
